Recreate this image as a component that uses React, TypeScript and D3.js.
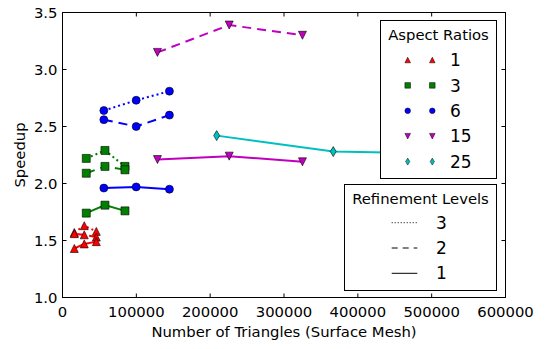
import * as d3 from "d3";

// triangle counts per aspect ratio (x), one entry per mesh
const AR1_TRIANGLES = [16000, 29500, 45800];
const AR3_TRIANGLES = [32200, 57500, 84600];
const AR6_TRIANGLES = [56000, 99800, 144800];
const AR15_TRIANGLES = [128600, 225800, 325000];
const AR25_TRIANGLES = [208800, 366700, 528000];

// speedups, by aspect ratio and refinement level
const AR1_L3 = [1.57, 1.63, 1.58];
const AR1_L2 = [1.56, 1.55, 1.53];
const AR1_L1 = [1.43, 1.47, 1.49];
const AR3_L3 = [2.22, 2.29, 2.15];
const AR3_L2 = [2.09, 2.15, 2.12];
const AR3_L1 = [1.74, 1.81, 1.76];
const AR6_L3 = [2.64, 2.73, 2.81];
const AR6_L2 = [2.56, 2.5, 2.6];
const AR6_L1 = [1.96, 1.97, 1.95];
const AR15_L2 = [3.15, 3.39, 3.3];
const AR15_L1 = [2.21, 2.24, 2.19];
const AR25_L1 = [2.42, 2.28, 2.26];

const ASPECT_RATIOS = ["1", "3", "6", "15", "25"];
const LEVELS = ["3", "2", "1"];
const X_TICKS = [0, 100000, 200000, 300000, 400000, 500000, 600000];
const Y_TICKS = [1.0, 1.5, 2.0, 2.5, 3.0, 3.5];

type Shape = "^" | "s" | "o" | "v" | "d";
const COLORS = ["#ff0000", "#008000", "#0000ff", "#bf00bf", "#00bfbf"];
const SHAPES: Shape[] = ["^", "s", "o", "v", "d"];
const DASH: Record<string, string | undefined> = { "3": "2,3", "2": "9,6", "1": undefined };

const series = [
  { ar: 0, level: "3", x: AR1_TRIANGLES, y: AR1_L3 },
  { ar: 0, level: "2", x: AR1_TRIANGLES, y: AR1_L2 },
  { ar: 0, level: "1", x: AR1_TRIANGLES, y: AR1_L1 },
  { ar: 1, level: "3", x: AR3_TRIANGLES, y: AR3_L3 },
  { ar: 1, level: "2", x: AR3_TRIANGLES, y: AR3_L2 },
  { ar: 1, level: "1", x: AR3_TRIANGLES, y: AR3_L1 },
  { ar: 2, level: "3", x: AR6_TRIANGLES, y: AR6_L3 },
  { ar: 2, level: "2", x: AR6_TRIANGLES, y: AR6_L2 },
  { ar: 2, level: "1", x: AR6_TRIANGLES, y: AR6_L1 },
  { ar: 3, level: "2", x: AR15_TRIANGLES, y: AR15_L2 },
  { ar: 3, level: "1", x: AR15_TRIANGLES, y: AR15_L1 },
  { ar: 4, level: "1", x: AR25_TRIANGLES, y: AR25_L1 },
];

function markerPath(shape: Shape, r: number) {
  switch (shape) {
    case "^":
      return `M0,${-r}L${r},${r}L${-r},${r}Z`;
    case "v":
      return `M0,${r}L${r},${-r}L${-r},${-r}Z`;
    case "s":
      return `M${-r},${-r}H${r}V${r}H${-r}Z`;
    case "d":
      return `M0,${-r * 1.25}L${r * 0.75},0L0,${r * 1.25}L${-r * 0.75},0Z`;
    default:
      return `M${r},0A${r},${r} 0 1 1 ${-r},0A${r},${r} 0 1 1 ${r},0Z`;
  }
}

const FONT = "DejaVu Sans, sans-serif";

export default function App() {
  const width = 545;
  const height = 349;
  const x = d3.scaleLinear().domain([0, 600000]).range([62.5, 505.5]);
  const y = d3.scaleLinear().domain([1.0, 3.5]).range([297.5, 12.5]);

  const [x0, x1] = x.range();
  const [y0, y1] = y.range();

  return (
    <svg
      width={width}
      height={height}
      style={{ position: "absolute", left: 0, top: 0, background: "#fff" }}
      fontFamily={FONT}
    >
      {/* series */}
      {series.map((s, i) => {
        const gen = d3
          .line<number>()
          .x((_, j) => x(s.x[j]))
          .y((d) => y(d));
        return (
          <g key={i}>
            <path
              d={gen(s.y) ?? ""}
              fill="none"
              stroke={COLORS[s.ar]}
              strokeWidth={2}
              strokeDasharray={DASH[s.level]}
            />
            {s.y.map((v, j) => (
              <path
                key={j}
                transform={`translate(${x(s.x[j])},${y(v)})`}
                d={markerPath(SHAPES[s.ar], 4)}
                fill={COLORS[s.ar]}
                stroke="#000"
                strokeWidth={0.6}
              />
            ))}
          </g>
        );
      })}

      {/* frame */}
      <rect x={x0} y={y1} width={x1 - x0} height={y0 - y1} fill="none" stroke="#000" strokeWidth={1} />

      {/* ticks */}
      {X_TICKS.map((t) => (
        <g key={t}>
          <line x1={x(t)} x2={x(t)} y1={y0} y2={y0 - 4} stroke="#000" />
          <line x1={x(t)} x2={x(t)} y1={y1} y2={y1 + 4} stroke="#000" />
          <text x={x(t)} y={y0 + 19} textAnchor="middle" fontSize={14.8} fill="#000">
            {t}
          </text>
        </g>
      ))}
      {Y_TICKS.map((t) => (
        <g key={t}>
          <line x1={x0} x2={x0 + 4} y1={y(t)} y2={y(t)} stroke="#000" />
          <line x1={x1} x2={x1 - 4} y1={y(t)} y2={y(t)} stroke="#000" />
          <text x={x0 - 5} y={y(t)} dy="0.36em" textAnchor="end" fontSize={14.8} fill="#000">
            {d3.format(".1f")(t)}
          </text>
        </g>
      ))}

      <text x={(x0 + x1) / 2} y={337} textAnchor="middle" fontSize={14.8} fill="#000">
        Number of Triangles (Surface Mesh)
      </text>
      <text
        transform={`translate(25,${(y0 + y1) / 2}) rotate(-90)`}
        textAnchor="middle"
        fontSize={14.8}
        fill="#000"
      >
        Speedup
      </text>

      {/* aspect ratio legend */}
      <g>
        <rect x={380.5} y={20.5} width={116} height={158} fill="#fff" stroke="#000" strokeWidth={1} />
        <text x={438.5} y={40} textAnchor="middle" fontSize={14.8} fill="#000">
          Aspect Ratios
        </text>
        {ASPECT_RATIOS.map((a, i) => {
          const cy = 60 + i * 25.4;
          return (
            <g key={a}>
              {[407.7, 432.3].map((mx) => (
                <path
                  key={mx}
                  transform={`translate(${mx},${cy})`}
                  d={markerPath(SHAPES[i], 2.8)}
                  fill={COLORS[i]}
                  stroke="#000"
                  strokeWidth={0.5}
                />
              ))}
              <text x={450} y={cy} dy="0.36em" fontSize={17} fill="#000">
                {a}
              </text>
            </g>
          );
        })}
      </g>

      {/* refinement legend */}
      <g>
        <rect x={344.5} y={184.5} width={152} height={106} fill="#fff" stroke="#000" strokeWidth={1} />
        <text x={420.5} y={203.5} textAnchor="middle" fontSize={14.8} fill="#000">
          Refinement Levels
        </text>
        {LEVELS.map((l, i) => {
          const cy = 222.7 + i * 25.3;
          return (
            <g key={l}>
              <line
                x1={391.7}
                x2={417.3}
                y1={cy}
                y2={cy}
                stroke="#000"
                strokeWidth={1}
                strokeDasharray={l === "3" ? "1,2" : l === "2" ? "6,5" : undefined}
              />
              <text x={436} y={cy} dy="0.36em" fontSize={17} fill="#000">
                {l}
              </text>
            </g>
          );
        })}
      </g>
    </svg>
  );
}
